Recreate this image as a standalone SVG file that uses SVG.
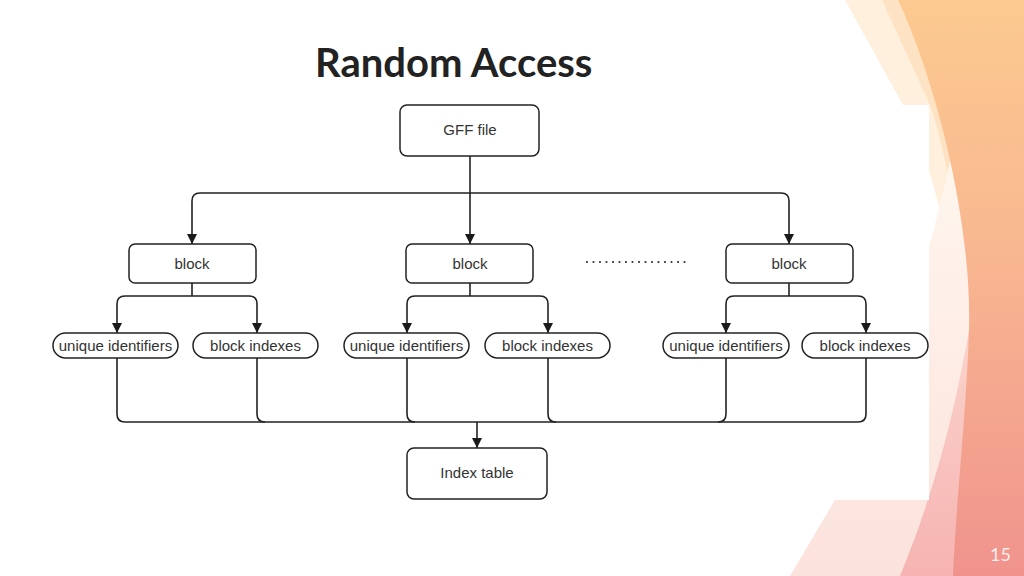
<svg xmlns="http://www.w3.org/2000/svg" width="1024" height="576" viewBox="0 0 1024 576">
<defs>
<linearGradient id="gOrange" x1="0" y1="0" x2="0" y2="1">
<stop offset="0" stop-color="#FCCA90"/>
<stop offset="0.45" stop-color="#F8B690"/>
<stop offset="1" stop-color="#F0938D"/>
</linearGradient>
<linearGradient id="gPink" x1="0" y1="0" x2="0" y2="1">
<stop offset="0" stop-color="#FBD3CC"/>
<stop offset="1" stop-color="#F6B3B1"/>
</linearGradient>
<linearGradient id="gPale" x1="0" y1="0" x2="0" y2="1">
<stop offset="0" stop-color="#FFF6EE"/>
<stop offset="1" stop-color="#FCE2DC"/>
</linearGradient>
<marker id="arr" viewBox="0 0 10 10" refX="10" refY="5" markerWidth="10" markerHeight="10" markerUnits="userSpaceOnUse" orient="auto">
<path d="M0,0 L10,5 L0,10 Z" fill="#1a1a1a"/>
</marker>
<style>
.box{fill:#fff;stroke:#222;stroke-width:1.5}
.t{font-family:"Liberation Sans",Arial,sans-serif;font-size:15px;fill:#333;text-anchor:middle}
.c{fill:none;stroke:#222;stroke-width:1.6}
</style>
</defs>
<rect width="1024" height="576" fill="#fff"/>
<g id="decoration">
<path d="M845,0 L903,105 C935,170 955,260 965,360 L1024,600 L1024,0 Z" fill="#FEF0DD"/>
<path d="M882,0 L930,105 C950,165 962,250 968,340 L1024,600 L1024,0 Z" fill="#FDE3C3"/>
<path d="M790,576 L835,500 C880,410 925,280 950,161 L1024,161 L1024,576 Z" fill="url(#gPale)"/>
<path d="M900,576 C925,515 950,440 969,330 L1024,330 L1024,576 Z" fill="url(#gPink)"/>
<path d="M898,0 C940,90 972,230 969,330 C966,420 956,500 953,576 L1024,576 L1024,0 Z" fill="url(#gOrange)"/>
<text x="1011" y="561" font-family="Lato,'Liberation Sans',sans-serif" font-size="18" fill="#fff" fill-opacity="0.85" text-anchor="end">15</text>
</g>
<text x="315" y="77" font-family="Lato,'Liberation Sans',sans-serif" font-weight="bold" font-size="40" fill="#222">Random Access</text>
<rect x="40" y="105" width="889" height="395" fill="#fff"/>
<g id="connectors">
<path class="c" d="M470,156 V244" marker-end="url(#arr)"/>
<path class="c" d="M470,193 H200 Q192,193 192,201 V244" marker-end="url(#arr)"/>
<path class="c" d="M470,193 H781 Q789,193 789,201 V244" marker-end="url(#arr)"/>
<path class="c" d="M192,283 V296"/>
<path class="c" d="M192,296 H125 Q117,296 117,304 V333" marker-end="url(#arr)"/>
<path class="c" d="M192,296 H249 Q257,296 257,304 V333" marker-end="url(#arr)"/>
<path class="c" d="M470,283 V296"/>
<path class="c" d="M470,296 H415 Q407,296 407,304 V333" marker-end="url(#arr)"/>
<path class="c" d="M470,296 H540 Q548,296 548,304 V333" marker-end="url(#arr)"/>
<path class="c" d="M789,283 V296"/>
<path class="c" d="M789,296 H734 Q726,296 726,304 V333" marker-end="url(#arr)"/>
<path class="c" d="M789,296 H858 Q866,296 866,304 V333" marker-end="url(#arr)"/>
<path class="c" d="M117,358 V414 Q117,422 125,422 H858 Q866,422 866,414 V358"/>
<path class="c" d="M257,358 V414 Q257,422 265,422"/>
<path class="c" d="M407,358 V414 Q407,422 415,422"/>
<path class="c" d="M548,358 V414 Q548,422 556,422"/>
<path class="c" d="M726,358 V414 Q726,422 718,422"/>
<path class="c" d="M477,422 V448" marker-end="url(#arr)"/>
<path d="M587,262 H691" fill="none" stroke="#333" stroke-width="2.2" stroke-linecap="round" stroke-dasharray="0 6.5"/>
</g>
<g id="gff"><rect class="box" x="400" y="105" width="139" height="51" rx="7"/><text class="t" x="470" y="135">GFF file</text></g>
<g id="block1"><rect class="box" x="129" y="244" width="127" height="39" rx="6"/><text class="t" x="192" y="269">block</text></g>
<g id="block2"><rect class="box" x="406" y="244" width="127" height="39" rx="6"/><text class="t" x="470" y="269">block</text></g>
<g id="block3"><rect class="box" x="726" y="244" width="127" height="39" rx="6"/><text class="t" x="789" y="269">block</text></g>
<g id="uid1"><rect class="box" x="53" y="333" width="125" height="25" rx="12.5"/><text class="t" x="115.5" y="351">unique identifiers</text></g>
<g id="bi1"><rect class="box" x="193" y="333" width="125" height="25" rx="12.5"/><text class="t" x="255.5" y="351">block indexes</text></g>
<g id="uid2"><rect class="box" x="344" y="333" width="125" height="25" rx="12.5"/><text class="t" x="406.5" y="351">unique identifiers</text></g>
<g id="bi2"><rect class="box" x="485" y="333" width="125" height="25" rx="12.5"/><text class="t" x="547.5" y="351">block indexes</text></g>
<g id="uid3"><rect class="box" x="663" y="333" width="126" height="25" rx="12.5"/><text class="t" x="726" y="351">unique identifiers</text></g>
<g id="bi3"><rect class="box" x="802" y="333" width="126" height="25" rx="12.5"/><text class="t" x="865" y="351">block indexes</text></g>
<g id="index"><rect class="box" x="407" y="448" width="140" height="51" rx="7"/><text class="t" x="477" y="478">Index table</text></g>
</svg>
